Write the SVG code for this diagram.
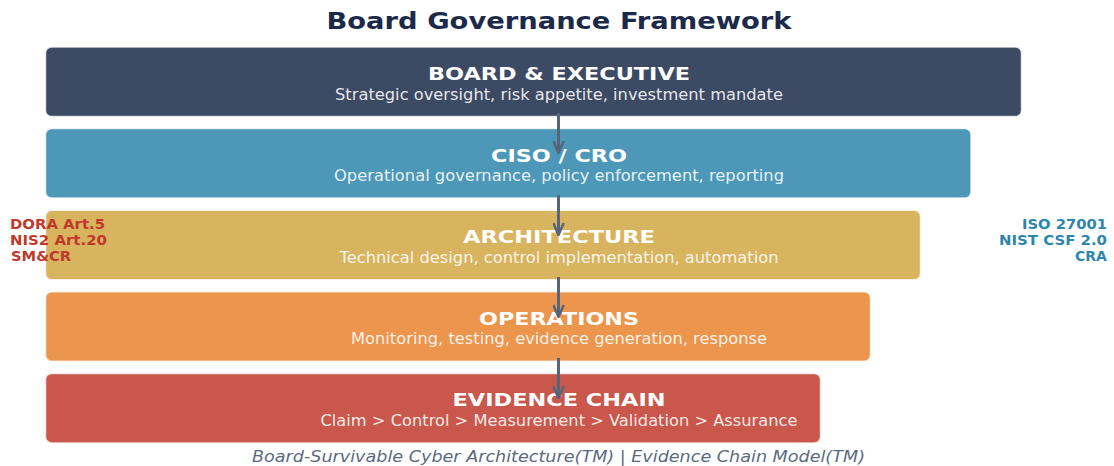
<svg xmlns="http://www.w3.org/2000/svg" width="1114" height="466" viewBox="0 0 1114 466">
  <defs>
    <style>
      .bg { fill: #ffffff; }
      .box { stroke: #ffffff; stroke-opacity: 0.75; stroke-width: 1.5; }
      .ttl { font-family: "DejaVu Sans", sans-serif; font-weight: bold; font-size: 18.5px; fill: #ffffff; text-anchor: middle; }
      .sub { font-family: "DejaVu Sans", sans-serif; font-size: 15px; fill: #ffffff; fill-opacity: 0.88; text-anchor: middle; }
      .main { font-family: "DejaVu Sans", sans-serif; font-weight: bold; font-size: 23.5px; fill: #1c2a4a; text-anchor: middle; }
      .regl { font-family: "DejaVu Sans", sans-serif; font-weight: bold; font-size: 13.8px; fill: #c0392b; }
      .regr { font-family: "DejaVu Sans", sans-serif; font-weight: bold; font-size: 13.8px; fill: #2e86ab; text-anchor: end; }
      .foot { font-family: "DejaVu Sans", sans-serif; font-style: italic; font-size: 15px; fill: #5b6b7f; text-anchor: middle; }
      .conn { stroke: #56657a; stroke-width: 3; fill: none; }
      .head { stroke: #56657a; stroke-width: 2.5; fill: none; stroke-linejoin: miter; stroke-linecap: butt; }
    </style>
    <marker id="arrow" markerUnits="userSpaceOnUse" viewBox="0 0 14 12" markerWidth="14" markerHeight="12" refX="13" refY="6" orient="auto">
      <path class="head" d="M1,0.8 L13,6 L1,11.2"/>
    </marker>
  </defs>
  <rect class="bg" x="0" y="0" width="1114" height="466"/>

  <text class="main" x="559" y="29" textLength="465" lengthAdjust="spacingAndGlyphs">Board Governance Framework</text>

  <g id="node-board">
    <rect class="box" x="45.5" y="47" width="976" height="69.5" rx="6" ry="6" fill="#3d4a64"/>
    <text class="ttl" x="559" y="80" textLength="262" lengthAdjust="spacingAndGlyphs">BOARD &amp; EXECUTIVE</text>
    <text class="sub" x="559" y="100" textLength="448" lengthAdjust="spacingAndGlyphs">Strategic oversight, risk appetite, investment mandate</text>
  </g>

  <g id="node-ciso">
    <rect class="box" x="45.5" y="128.6" width="925.5" height="69.5" rx="6" ry="6" fill="#4d98b8"/>
    <text class="ttl" x="559" y="161.6" textLength="136" lengthAdjust="spacingAndGlyphs">CISO / CRO</text>
    <text class="sub" x="559" y="181.3" textLength="450" lengthAdjust="spacingAndGlyphs">Operational governance, policy enforcement, reporting</text>
  </g>

  <g id="node-architecture">
    <rect class="box" x="45.5" y="210.2" width="875" height="69.5" rx="6" ry="6" fill="#d9b45f"/>
    <text class="ttl" x="559" y="243.2" textLength="192" lengthAdjust="spacingAndGlyphs">ARCHITECTURE</text>
    <text class="sub" x="559" y="262.8" textLength="439" lengthAdjust="spacingAndGlyphs">Technical design, control implementation, automation</text>
  </g>

  <g id="node-operations">
    <rect class="box" x="45.5" y="291.8" width="825" height="69.5" rx="6" ry="6" fill="#ec954d"/>
    <text class="ttl" x="559" y="324.8" textLength="160" lengthAdjust="spacingAndGlyphs">OPERATIONS</text>
    <text class="sub" x="559" y="344.4" textLength="416" lengthAdjust="spacingAndGlyphs">Monitoring, testing, evidence generation, response</text>
  </g>

  <g id="node-evidence">
    <rect class="box" x="45.5" y="373.4" width="775" height="69.5" rx="6" ry="6" fill="#c9574b"/>
    <text class="ttl" x="559" y="406.4" textLength="213" lengthAdjust="spacingAndGlyphs">EVIDENCE CHAIN</text>
    <text class="sub" x="559" y="426" textLength="477" lengthAdjust="spacingAndGlyphs">Claim &gt; Control &gt; Measurement &gt; Validation &gt; Assurance</text>
  </g>

  <g id="connectors">
    <line class="conn" x1="558.5" y1="113" x2="558.5" y2="153" marker-end="url(#arrow)"/>
    <line class="conn" x1="558.5" y1="195" x2="558.5" y2="235" marker-end="url(#arrow)"/>
    <line class="conn" x1="558.5" y1="277" x2="558.5" y2="317" marker-end="url(#arrow)"/>
    <line class="conn" x1="558.5" y1="358" x2="558.5" y2="398" marker-end="url(#arrow)"/>
  </g>

  <g id="regulations-left">
    <text class="regl" x="10" y="228.5" textLength="95" lengthAdjust="spacingAndGlyphs">DORA Art.5</text>
    <text class="regl" x="10" y="244.5" textLength="97" lengthAdjust="spacingAndGlyphs">NIS2 Art.20</text>
    <text class="regl" x="11" y="260.5" textLength="60" lengthAdjust="spacingAndGlyphs">SM&amp;CR</text>
  </g>

  <g id="standards-right">
    <text class="regr" x="1107" y="228.5" textLength="85" lengthAdjust="spacingAndGlyphs">ISO 27001</text>
    <text class="regr" x="1107" y="244.5" textLength="108" lengthAdjust="spacingAndGlyphs">NIST CSF 2.0</text>
    <text class="regr" x="1107" y="260.5" textLength="32" lengthAdjust="spacingAndGlyphs">CRA</text>
  </g>

  <text class="foot" x="558.5" y="461.5" textLength="613" lengthAdjust="spacingAndGlyphs">Board-Survivable Cyber Architecture(TM) | Evidence Chain Model(TM)</text>
</svg>
